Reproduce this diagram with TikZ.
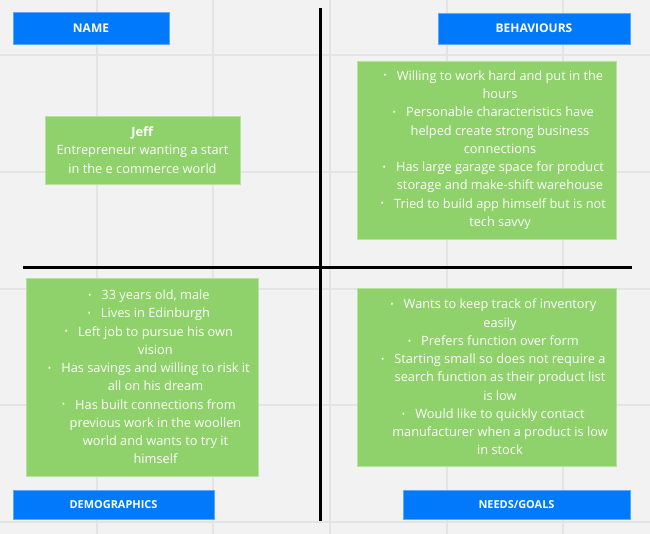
\documentclass[tikz,border=0pt]{standalone}
\usepackage{fontspec}
\usepackage{graphicx}
\setmainfont{Open Sans}
\usetikzlibrary{calc}
\definecolor{bgc}{HTML}{F2F2F2}
\definecolor{gridc}{HTML}{E4E4E4}
\definecolor{hdrblue}{HTML}{0079FA}
\definecolor{hdredge}{HTML}{5AA8FF}
\definecolor{boxgreen}{HTML}{8FD16A}
\definecolor{boxedge}{HTML}{B5E39A}
\newcommand{\bul}{\llap{\raisebox{0.1em}{\scalebox{0.7}{•}}\hspace{7.5pt}}}
\begin{document}
\begin{tikzpicture}[x=0.75pt,y=-0.75pt,
  hdr/.style={fill=hdrblue,draw=hdredge,line width=0.5pt,text=white,font=\bfseries\fontsize{9}{10}\selectfont,inner sep=0pt},
  hdrsmall/.style={hdr,font=\bfseries\fontsize{8.2}{10}\selectfont},
  gbox/.style={fill=boxgreen,draw=boxedge,line width=0.5pt,inner sep=0pt},
  body/.style={text=white,align=center,font=\fontsize{9.6}{13.7}\selectfont,inner sep=0pt},
  axis/.style={line width=2.3pt,black}]
\fill[bgc] (0,0) rectangle (650,534);
\useasboundingbox (0,0) rectangle (650,534);
\foreach \gx in {97,213,330,447,563} \draw[gridc,line width=0.8pt] (\gx,0) -- (\gx,534);
\foreach \gy in {55,172,289,405,522} \draw[gridc,line width=0.8pt] (0,\gy) -- (650,\gy);
% axes
\coordinate (vtop) at (320.5,8);
\coordinate (vbot) at (320.5,521);
\coordinate (hl) at (23,267.5);
\coordinate (hr) at (632,267.5);
\draw[axis] (vtop) -- (vbot);
\draw[axis] (hl) -- (hr);
% headers
\node[hdr,minimum width=156*0.75pt,minimum height=32*0.75pt] (name) at (91,28) {NAME};
\node[hdr,minimum width=192*0.75pt,minimum height=31*0.75pt] (behav) at (534,28.5) {BEHAVIOURS};
\node[hdrsmall,minimum width=201*0.75pt,minimum height=29*0.75pt] (demo) at (113.5,504.5) {DEMOGRAPHICS};
\node[hdrsmall,minimum width=227*0.75pt,minimum height=29*0.75pt] (needs) at (516.5,504.5) {NEEDS/GOALS};
% green boxes
\node[gbox,minimum width=195*0.75pt,minimum height=68*0.75pt] (jeffbox) at (142.5,150) {};
\node[body] (jeff) at (142.5,150) {\textbf{Jeff}\\Entrepreneur wanting a start\\in the e commerce world};
\node[gbox,minimum width=259*0.75pt,minimum height=178*0.75pt] (behbox) at (486.5,150) {};
\node[body] (behtxt) at (500,150) {\bul Willing to work hard and put in the\\hours\\\bul Personable characteristics have\\helped create strong business\\connections\\\bul Has large garage space for product\\storage and make-shift warehouse\\\bul Tried to build app himself but is not\\tech savvy};
\node[gbox,minimum width=232*0.75pt,minimum height=198*0.75pt] (demobox) at (142,377) {};
\node[body] (demotxt) at (155.5,377) {\bul 33 years old, male\\\bul Lives in Edinburgh\\\bul Left job to pursue his own\\vision\\\bul Has savings and willing to risk it\\all on his dream\\\bul Has built connections from\\previous work in the woollen\\world and wants to try it\\himself};
\node[gbox,minimum width=259*0.75pt,minimum height=178*0.75pt] (needbox) at (486.5,377) {};
\node[body] (needtxt) at (500,377) {\bul Wants to keep track of inventory\\easily\\\bul Prefers function over form\\\bul Starting small so does not require a\\search function as their product list\\is low\\\bul Would like to quickly contact\\manufacturer when a product is low\\in stock};
\end{tikzpicture}
\end{document}
